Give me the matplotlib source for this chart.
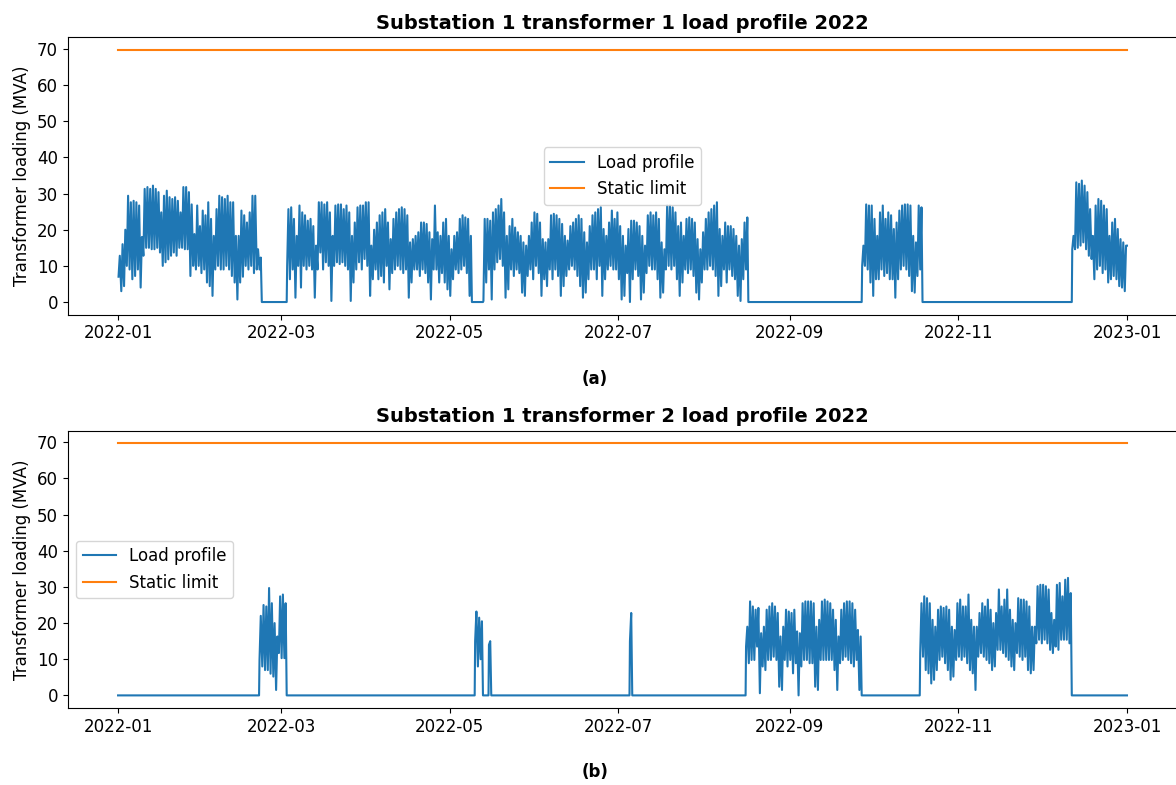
import matplotlib
matplotlib.use("Agg")
import matplotlib.pyplot as plt
import pandas as pd

# daily peak / trough loading (MVA), one pair per day
# each block starts at the given day of year (0 = 2022-01-01)

static_limit = 69.7

# transformer 1
t1_jan_start = 0
t1_jan_peak = [12.8, 16, 20, 29.4, 27.6, 28, 27.6, 26.7, 18, 31.3,
               31.8, 31.3, 32.2, 31.3, 30.4, 24.8, 29.4, 30.8, 29, 28.5,
               29, 28, 24.8, 31.8, 31.8, 30.4, 27, 18.8, 26.7, 21,
               25.3, 24, 27.6, 23, 18.3, 25.7, 29.4, 29, 28.5, 29.4,
               27.6, 27.6, 18.3, 18.3, 25.3, 24, 22, 24.8, 29.4, 29.4,
               14.6, 12.3]
t1_jan_low = [7, 3, 4.4, 10, 9, 6.3, 7.2, 9, 4, 12.8,
              15, 15, 14.6, 14.6, 15, 13.7, 10, 11, 11.8, 12.8,
              13.7, 12.8, 15, 15, 14.6, 14.6, 7.2, 10, 9, 10,
              8, 9, 5.4, 4.4, 1.7, 9, 10, 9, 9, 10,
              9, 7.2, 5.4, 0.7, 5.4, 7, 10, 9, 10, 8,
              9, 9]

t1_mar_start = 61
t1_mar_peak = [25.7, 26.2, 23, 18.3, 26.7, 24.8, 24, 22.5, 23, 21,
               15.6, 27.6, 27.6, 27, 27.6, 24.8, 18.3, 26.7, 27, 27,
               25.7, 26.7, 24.8, 18.3, 22, 26.2, 26.7, 26.7, 27.6, 27.6,
               15.6, 20, 22, 24, 24.8, 25.7, 22, 17.4, 23, 24.8,
               25.7, 26.2, 25.7, 24, 16.5, 17.4, 18.3, 19.3, 22, 22,
               21.6, 19.3, 17.4, 26.7, 19.3, 18.3, 22, 23, 18.3, 14.6,
               18.3, 19.3, 23, 24, 23.4, 23, 18.3]
t1_mar_low = [10, 6.3, 9, 1.2, 10, 4, 10, 9, 10, 9,
              1.2, 9, 13.7, 9, 11, 10, 0.3, 10, 11, 10.5,
              11, 10, 9, 0.3, 5.4, 9, 11, 9, 11.9, 10,
              1.7, 6.3, 9, 6.3, 7.2, 5.4, 10, 3.5, 8, 9,
              10, 9, 8, 9, 1.2, 5.4, 9, 9, 7.2, 9,
              8, 5.4, 0.7, 9, 9, 5.4, 8, 5.4, 3.5, 1.7,
              6.3, 9, 8, 9, 10, 8, 1.7]

t1_may_start = 132
t1_may_peak = [23, 23, 22.5, 24.8, 25.7, 26.7, 28.5, 24.8, 18.3, 21,
               23, 20.6, 19.3, 18.3, 16.5, 15.6, 18.3, 22, 24.8, 24.4,
               22, 17.4, 16.5, 17.4, 24, 24.4, 24, 23, 21.6, 18.3,
               17, 21, 22, 23, 24, 23, 19.3, 16.5, 21, 24,
               24.8, 25.7, 26.2, 20.2, 18.3, 22, 25.3, 23, 24.8, 21,
               18.3, 15.6, 20.2, 22.5, 22.5, 22, 21, 18.3, 15.6, 24,
               24.8, 24, 24.8, 23, 16.5, 14.6, 26.7, 26.7, 26.2, 24.8,
               21, 22, 18.3, 23, 23.4, 23, 22, 17.4, 14.6, 19.3,
               23, 24.8, 25.7, 26.7, 27.6, 20.2, 18.3, 22, 21, 21,
               20.2, 18.3, 15.6, 17.4, 22, 23.4]
t1_may_low = [0.3, 5.4, 9, 0.7, 9, 11, 11.9, 10, 1.2, 3.5,
              9, 7.2, 9, 8, 2.6, 1.7, 7.2, 9, 6.3, 10,
              8, 1.7, 6.3, 4.4, 9, 6.3, 9, 7.2, 1.7, 4.4,
              7.2, 9, 10, 9, 7.2, 4.4, 1.2, 2.6, 6.3, 9,
              9, 6.3, 10, 1.7, 6.3, 9, 10, 9, 9, 6.3,
              0.7, 1.7, 8, 0, 6.3, 9, 7.2, 0.7, 2.6, 8,
              10, 9, 9, 6.3, 1.2, 2.6, 9, 10, 9, 10,
              6.3, 1.7, 5.4, 9, 8, 9, 7.2, 2.6, 0.7, 5.4,
              9, 9, 10, 9, 7.2, 1.7, 4.4, 9, 5.4, 9,
              7.2, 6.3, 1.7, 0.3, 6.3, 9]

t1_sep_start = 269
t1_sep_peak = [15.6, 27, 26.7, 26.7, 23, 18.3, 24.8, 26.7, 23, 24.8,
               24, 20.2, 22, 25.3, 26.7, 27, 27, 26.7, 18.3, 16.5,
               26.7, 26.2]
t1_sep_low = [10, 10, 9, 5.4, 1.7, 6.3, 6.3, 9, 7.2, 8,
              6.3, 6.3, 1.2, 6.3, 9, 10, 9, 7.2, 3, 2.6,
              7.2, 9]

t1_dec_start = 345
t1_dec_peak = [18.3, 33.1, 32.7, 33.6, 32.2, 30.4, 25.7, 18.3, 26.7, 28.5,
               28, 26.7, 25.7, 18.3, 22, 23, 20.2, 17.4, 16.5, 15.6]
t1_dec_low = [14.6, 14.6, 15, 15.6, 16.5, 14.6, 12.8, 11.9, 6.3, 9,
              10, 8, 9, 5.4, 6.3, 7.2, 6.3, 4.4, 4, 3]

# transformer 2
t2_feb_start = 51
t2_feb_peak = [22, 25, 24.6, 29.7, 25.5, 20, 16.3, 27.4, 27.9, 25.5]
t2_feb_low = [9.8, 8, 7, 7, 6, 5.2, 1.5, 11.7, 10.3, 10.3]

t2_may_start = 129
t2_may_peak = [23.2, 21.5, 20.5]
t2_may_low = [15, 8, 10]

t2_may2_start = 134
t2_may2_peak = [15]
t2_may2_low = [14]

t2_jul_start = 185
t2_jul_peak = [22.8]
t2_jul_low = [15]

t2_aug_start = 227
t2_aug_peak = [19, 26, 24.6, 23.7, 24.2, 17.2, 19, 23.7, 24.6, 25.5,
               24.6, 22.8, 16.3, 19, 23.7, 23.2, 22.8, 23.7, 17.7, 17.2,
               25.5, 26, 26, 26, 25.5, 19, 20.9, 26, 26.5, 26,
               25.5, 23.7, 20.9, 16.3, 23.7, 25.5, 26, 26, 25.5, 23.7,
               18.1, 16.3]
t2_aug_low = [13.5, 8.9, 9.8, 9.8, 13.5, 0.6, 8, 7, 9.8, 9.8,
              10.7, 9.8, 2.4, 1.5, 9.8, 8, 9.8, 6.1, 8.9, 0,
              8, 9.8, 9.8, 8.9, 8.9, 2.4, 1.5, 9.8, 9.8, 9.8,
              9.8, 9.8, 7, 1.5, 8.9, 9.8, 10.7, 9.8, 8.9, 8,
              9.8, 1.5]

t2_oct_start = 290
t2_oct_peak = [25.5, 27.4, 26.9, 25.5, 20.9, 19, 23.7, 24.6, 24.2, 24.6,
               23.7, 19, 18.1, 25.5, 26.5, 24.6, 24.6, 27.9, 20.9, 19,
               19, 22.8, 25.5, 24.6, 26.5, 23.7, 20, 22.8, 29.3, 24.6,
               26.5, 29.3, 23.7, 20.9, 20, 26.9, 26.5, 26.5, 26, 24.6,
               19, 19, 30.2, 30.6, 30.6, 30.2, 29.3, 22.8, 20.9, 30.6,
               31.1, 27.4, 32, 32.5, 28.3]
t2_oct_low = [11.7, 10.7, 7, 6.1, 3.3, 4.3, 7, 9.8, 10.7, 8.9,
              7, 4.3, 5.2, 9.8, 10.7, 9.8, 10.7, 8.9, 7, 6.1,
              1.5, 10.7, 11.7, 10.7, 9.8, 8.9, 7, 8, 12.6, 12.6,
              11.7, 10.7, 9.8, 8, 7, 11.7, 10.7, 9.8, 10.7, 7,
              6.1, 7, 14.4, 15.4, 14.4, 15.4, 14.4, 12.6, 11.7, 13.5,
              12.6, 15.4, 15.4, 15.4, 14.4]

t1_blocks = [(t1_jan_start, t1_jan_peak, t1_jan_low),
             (t1_mar_start, t1_mar_peak, t1_mar_low),
             (t1_may_start, t1_may_peak, t1_may_low),
             (t1_sep_start, t1_sep_peak, t1_sep_low),
             (t1_dec_start, t1_dec_peak, t1_dec_low)]
t2_blocks = [(t2_feb_start, t2_feb_peak, t2_feb_low),
             (t2_may_start, t2_may_peak, t2_may_low),
             (t2_may2_start, t2_may2_peak, t2_may2_low),
             (t2_jul_start, t2_jul_peak, t2_jul_low),
             (t2_aug_start, t2_aug_peak, t2_aug_low),
             (t2_oct_start, t2_oct_peak, t2_oct_low)]

year_start = pd.Timestamp("2022-01-01 00:00")
year_end = pd.Timestamp("2022-12-31 23:00")


def profile(blocks):
    # out of service -> 0, in service -> trough early morning, peak afternoon
    tt = []
    vv = []
    for start, peak, low in blocks:
        t0 = year_start + pd.Timedelta(days=start)
        if start > 0:
            if not tt:
                tt.append(year_start)
                vv.append(0.0)
            tt.append(t0)
            vv.append(0.0)
        for i in range(len(peak)):
            day = t0 + pd.Timedelta(days=i)
            tt += [day + pd.Timedelta(hours=4), day + pd.Timedelta(hours=15)]
            vv += [low[i], peak[i]]
        t1 = t0 + pd.Timedelta(days=len(peak))
        if t1 < year_end:
            tt.append(t1)
            vv.append(0.0)
    if tt[-1] < year_end:
        tt.append(year_end)
        vv.append(vv[-1])
    return tt, vv


fig = plt.figure(figsize=(11.76, 7.85), dpi=100)
ax1 = fig.add_axes([0.0575, 0.5992, 0.9437, 0.3531])
ax2 = fig.add_axes([0.0575, 0.0981, 0.9437, 0.3531])

panels = [(ax1, t1_blocks, "Substation 1 transformer 1 load profile 2022", "center", "(a)", 1 - 379 / 785),
          (ax2, t2_blocks, "Substation 1 transformer 2 load profile 2022", "center left", "(b)", 1 - 772 / 785)]

for ax, blocks, title, loc, tag, ty in panels:
    tt, vv = profile(blocks)
    ax.plot(tt, vv, color="tab:blue", lw=1.5, label="Load profile")
    ax.plot([year_start, year_end], [static_limit, static_limit], color="tab:orange", lw=1.5, label="Static limit")
    ax.set_title(title, fontsize=14, fontweight="bold")
    ax.set_ylabel("Transformer loading (MVA)", fontsize=12)
    ax.tick_params(labelsize=12)
    ax.legend(loc=loc, fontsize=12)
    fig.text(595 / 1176, ty, tag, ha="center", va="center", fontsize=12, fontweight="bold")

fig.savefig("out.png", dpi=100)
